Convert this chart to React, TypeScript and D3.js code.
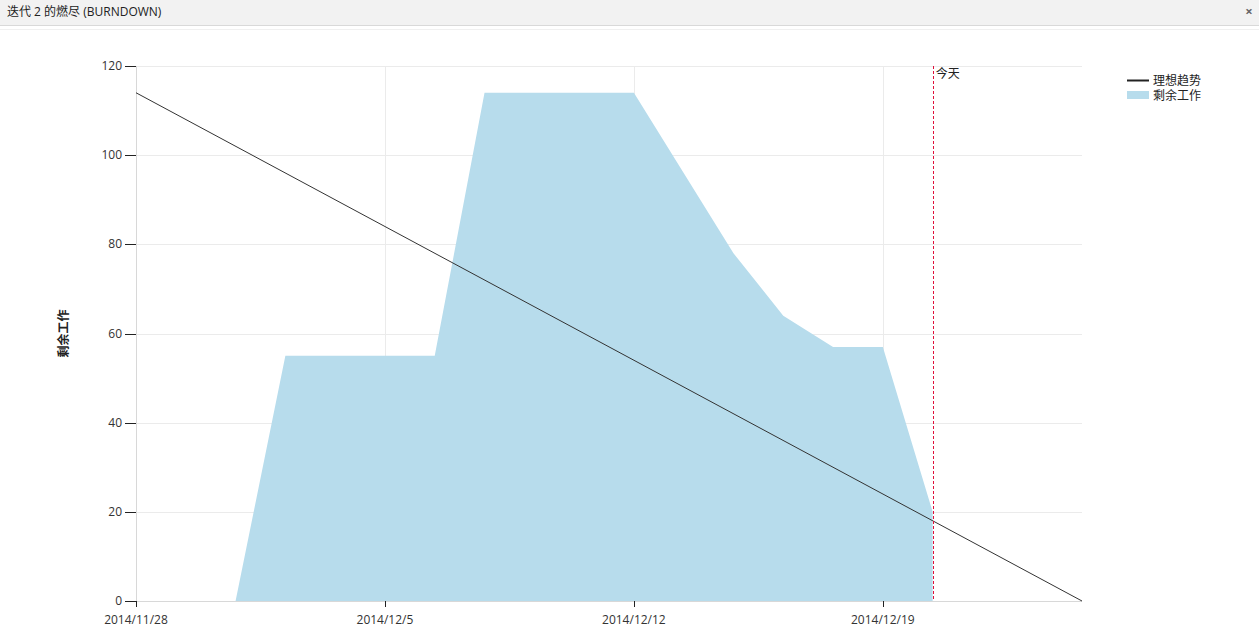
import React from "react";
import * as d3 from "d3";

const workdays = [
  "2014/11/28", "2014/12/1", "2014/12/2", "2014/12/3", "2014/12/4", "2014/12/5",
  "2014/12/8", "2014/12/9", "2014/12/10", "2014/12/11", "2014/12/12",
  "2014/12/15", "2014/12/16", "2014/12/17", "2014/12/18", "2014/12/19",
  "2014/12/22", "2014/12/23", "2014/12/24", "2014/12/25",
];
const remainingDates = [
  "2014/12/2", "2014/12/3", "2014/12/4", "2014/12/5", "2014/12/8", "2014/12/9",
  "2014/12/10", "2014/12/11", "2014/12/12", "2014/12/15", "2014/12/16",
  "2014/12/17", "2014/12/18", "2014/12/19", "2014/12/22",
];
const remainingValues = [0, 55, 55, 55, 55, 114, 114, 114, 114, 96, 78, 64, 57, 57, 20];
const idealDates = ["2014/11/28", "2014/12/25"];
const idealValues = [114, 0];
const xTickLabels = ["2014/11/28", "2014/12/5", "2014/12/12", "2014/12/19"];
const yTicks = [0, 20, 40, 60, 80, 100, 120];
const todayDate = "2014/12/22";

const title = "迭代 2 的燃尽 (BURNDOWN)";
const yLabel = "剩余工作";
const legendLabels = ["理想趋势", "剩余工作"];
const todayLabel = "今天";

const FONT = "'Open Sans', 'Noto Sans CJK SC', sans-serif";

export default function App() {
  const left = 136, right = 1082, top = 66, bottom = 601;
  const x = d3.scaleLinear().domain([0, workdays.length - 1]).range([left, right]);
  const y = d3.scaleLinear().domain([0, 120]).range([bottom, top]);
  const xi = (d: string) => x(workdays.indexOf(d));

  const areaData = remainingDates.map((d, i) => ({ d, v: remainingValues[i] }));
  const areaGen = d3.area<{ d: string; v: number }>()
    .x((p) => xi(p.d))
    .y0(y(0))
    .y1((p) => y(p.v));
  const idealData = idealDates.map((d, i) => ({ d, v: idealValues[i] }));
  const lineGen = d3.line<{ d: string; v: number }>().x((p) => xi(p.d)).y((p) => y(p.v));

  const todayX = xi(todayDate);

  return (
    <svg
      width={1259}
      height={633}
      style={{ position: "absolute", left: 0, top: 0, fontFamily: FONT, background: "#fff" }}
    >
      <rect x={0} y={0} width={1259} height={25} fill="#f2f2f2" />
      <line x1={0} x2={1259} y1={25.5} y2={25.5} stroke="#d9d9d9" />
      <line x1={0} x2={1259} y1={29.5} y2={29.5} stroke="#f0f0f0" />
      <text x={7} y={16} fontSize={12} fill="#222">{title}</text>
      <text x={1249} y={16} fontSize={13} fill="#666" fontWeight="bold" textAnchor="middle">×</text>

      {/* grid */}
      {yTicks.map((t) => (
        <line key={"gy" + t} x1={left} x2={right} y1={Math.round(y(t)) + 0.5} y2={Math.round(y(t)) + 0.5} stroke="#ebebeb" />
      ))}
      {xTickLabels.map((t) => (
        <line key={"gx" + t} x1={Math.round(xi(t)) + 0.5} x2={Math.round(xi(t)) + 0.5} y1={top} y2={bottom} stroke="#ebebeb" />
      ))}

      {/* area */}
      <path d={areaGen(areaData) || ""} fill="#b7dcec" />

      {/* axes domain */}
      <line x1={left + 0.5} x2={left + 0.5} y1={top} y2={bottom} stroke="#d8d8d8" />
      <line x1={left} x2={right} y1={bottom + 0.5} y2={bottom + 0.5} stroke="#d8d8d8" />

      {/* y ticks */}
      {yTicks.map((t) => (
        <g key={"yt" + t}>
          <line x1={left - 11} x2={left} y1={Math.round(y(t)) + 0.5} y2={Math.round(y(t)) + 0.5} stroke="#222" />
          <text x={left - 14} y={y(t) + 4} fontSize={12} fill="#333" textAnchor="end">{t}</text>
        </g>
      ))}
      {/* x ticks */}
      {xTickLabels.map((t) => (
        <g key={"xt" + t}>
          <line x1={Math.round(xi(t)) + 0.5} x2={Math.round(xi(t)) + 0.5} y1={bottom} y2={bottom + 6} stroke="#222" />
          <text x={xi(t)} y={bottom + 23} fontSize={12} fill="#333" textAnchor="middle">{t}</text>
        </g>
      ))}

      {/* ideal line */}
      <path d={lineGen(idealData) || ""} fill="none" stroke="#333" strokeWidth={1} />

      {/* today */}
      <line
        x1={Math.round(todayX) + 0.5}
        x2={Math.round(todayX) + 0.5}
        y1={top}
        y2={bottom}
        stroke="#e0103a"
        strokeWidth={1}
        strokeDasharray="3,2"
        shapeRendering="crispEdges"
      />
      <text x={todayX + 3} y={top + 12} fontSize={12} fill="#222">{todayLabel}</text>

      {/* y label */}
      <text
        transform={`translate(68, ${(top + bottom) / 2}) rotate(-90)`}
        fontSize={12}
        fontWeight="bold"
        fill="#222"
        textAnchor="middle"
      >
        {yLabel}
      </text>

      {/* legend */}
      <line x1={1127} x2={1149} y1={80.5} y2={80.5} stroke="#222" strokeWidth={2} />
      <text x={1153} y={85} fontSize={12} fill="#222">{legendLabels[0]}</text>
      <rect x={1127} y={91} width={22} height={8} fill="#b7dcec" />
      <text x={1153} y={100} fontSize={12} fill="#222">{legendLabels[1]}</text>
    </svg>
  );
}
